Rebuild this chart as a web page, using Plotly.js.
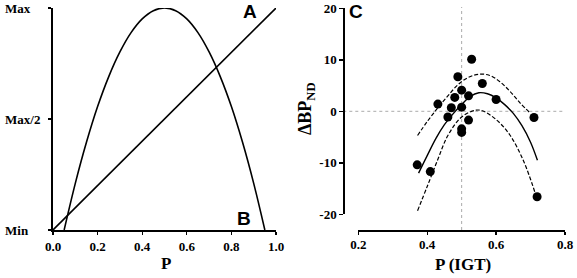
<!DOCTYPE html>
<html>
<head>
<meta charset="utf-8">
<script src="https://cdn.plot.ly/plotly-3.0.1.min.js"></script>
<style>html,body{margin:0;padding:0;background:#fff;}#chart{width:577px;height:278px;}</style>
</head>
<body>
<div id="chart"></div>
<script>
// ---- Panel A/B data ----
const pX = [0.05, 0.10, 0.15, 0.20, 0.25, 0.30, 0.35, 0.40, 0.45, 0.50, 0.55, 0.60, 0.65, 0.70, 0.75, 0.80, 0.85, 0.90, 0.95];
const curveA = [0, 0.21, 0.395, 0.556, 0.691, 0.802, 0.889, 0.951, 0.988, 1.0, 0.988, 0.951, 0.889, 0.802, 0.691, 0.556, 0.395, 0.21, 0];
const lineX = [0, 1];
const lineB = [0, 1];
const leftYTickVals = [0, 0.5, 1];
const leftYTickText = ['Min', 'Max/2', 'Max'];
const leftXTickVals = [0, 0.2, 0.4, 0.6, 0.8, 1.0];
const leftXTickText = ['0.0', '0.2', '0.4', '0.6', '0.8', '1.0'];
const leftXTitle = 'P';

// ---- Panel C data ----
const igtP = [0.529, 0.489, 0.560, 0.500, 0.480, 0.520, 0.600, 0.431, 0.470, 0.500, 0.460, 0.520, 0.500, 0.500, 0.371, 0.409, 0.710, 0.719];
const dBPnd = [10.1, 6.7, 5.4, 4.1, 2.7, 3.0, 2.3, 1.4, 0.7, 0.8, -1.1, -1.7, -3.4, -4.1, -10.4, -11.7, -1.2, -16.6];

const fitX = [0.375, 0.40, 0.425, 0.45, 0.475, 0.50, 0.525, 0.55, 0.575, 0.60, 0.625, 0.65, 0.675, 0.70, 0.72];
const fitY = [-12.0, -8.6, -5.3, -2.6, -0.5, 1.3, 2.9, 3.6, 3.4, 2.6, 1.3, -0.4, -2.8, -6.0, -9.5];

const upperX = [0.372, 0.40, 0.43, 0.46, 0.49, 0.52, 0.55, 0.58, 0.61, 0.64, 0.67, 0.70];
const upperY = [-4.7, -2.0, 0.6, 3.0, 5.2, 6.6, 7.2, 7.0, 5.8, 3.9, 1.6, -0.4];

const lowerX = [0.372, 0.40, 0.43, 0.46, 0.50, 0.54, 0.56, 0.60, 0.64, 0.68, 0.713];
const lowerY = [-19.3, -14.6, -9.5, -4.7, -1.1, 0.2, 0.1, -1.6, -4.6, -9.7, -15.8];

const rightXTicks = [0.2, 0.4, 0.6, 0.8];
const rightYTicks = [-20, -10, 0, 10, 20];
const rightXTitle = 'P (IGT)';
const rightYTitle = 'ΔBP<sub>ND</sub>';

const W = 577, H = 278;
const px = v => v / W;
const py = v => 1 - v / H;

const SERIF = 'Liberation Serif';
const tickFont = () => ({family: SERIF, size: 13, color: '#000', weight: 700});
const titleFont = s => ({family: SERIF, size: s, color: '#000', weight: 700});
const letterFont = () => ({family: 'Liberation Sans', size: 19, color: '#000', weight: 700});

const traces = [
  {x: pX, y: curveA, xaxis: 'x', yaxis: 'y', mode: 'lines', line: {color: '#000', width: 1.6, shape: 'spline'}, hoverinfo: 'skip'},
  {x: lineX, y: lineB, xaxis: 'x', yaxis: 'y', mode: 'lines', line: {color: '#000', width: 1.6}, hoverinfo: 'skip'},
  {x: upperX, y: upperY, xaxis: 'x2', yaxis: 'y2', mode: 'lines', line: {color: '#000', width: 1.2, dash: '4px,2px', shape: 'spline'}},
  {x: lowerX, y: lowerY, xaxis: 'x2', yaxis: 'y2', mode: 'lines', line: {color: '#000', width: 1.2, dash: '4px,2px', shape: 'spline'}},
  {x: fitX, y: fitY, xaxis: 'x2', yaxis: 'y2', mode: 'lines', line: {color: '#000', width: 1.4, shape: 'spline'}},
  {x: igtP, y: dBPnd, xaxis: 'x2', yaxis: 'y2', mode: 'markers', marker: {color: '#000', size: 9}}
];

const annotations = leftYTickVals.map((v, i) => ({
  text: '<b>' + leftYTickText[i] + '</b>', xref: 'paper', yref: 'y', x: px(3), y: v,
  xanchor: 'left', yanchor: 'middle', showarrow: false, font: tickFont()
}));
annotations.push(
  // axis titles
  {text: '<b>' + leftXTitle + '</b>', xref: 'paper', yref: 'paper', x: px(165.5), y: py(263.5), xanchor: 'center', yanchor: 'middle', showarrow: false, font: titleFont(17)},
  {text: '<b>' + rightXTitle + '</b>', xref: 'paper', yref: 'paper', x: px(462.5), y: py(264), xanchor: 'center', yanchor: 'middle', showarrow: false, font: titleFont(17)},
  {text: '<b>' + rightYTitle + '</b>', xref: 'paper', yref: 'paper', x: px(306), y: py(109), xanchor: 'center', yanchor: 'middle', textangle: -90, showarrow: false, font: titleFont(18)},
  // panel letters
  {text: '<b>A</b>', xref: 'paper', yref: 'paper', x: px(250), y: py(12), xanchor: 'center', yanchor: 'middle', showarrow: false, font: letterFont()},
  {text: '<b>B</b>', xref: 'paper', yref: 'paper', x: px(243.5), y: py(218), xanchor: 'center', yanchor: 'middle', showarrow: false, font: letterFont()},
  {text: '<b>C</b>', xref: 'paper', yref: 'paper', x: px(355.5), y: py(11.5), xanchor: 'center', yanchor: 'middle', showarrow: false, font: letterFont()}
);

const layout = {
  width: W, height: H,
  margin: {l: 0, r: 0, t: 0, b: 0},
  paper_bgcolor: '#fff', plot_bgcolor: 'rgba(0,0,0,0)',
  showlegend: false,
  font: {family: SERIF, color: '#000', size: 12},
  xaxis: {
    domain: [px(53), px(276)], range: [0, 1], anchor: 'y',
    showline: true, linecolor: '#000', linewidth: 1.6, showgrid: false, zeroline: false,
    ticks: 'outside', ticklen: 3, tickwidth: 1.2, tickcolor: '#000', ticklabelstandoff: 1,
    tickvals: leftXTickVals, ticktext: leftXTickText.map(t => '<b>' + t + '</b>'), tickfont: tickFont()
  },
  yaxis: {
    domain: [py(230), py(8)], range: [0, 1], anchor: 'x',
    showline: true, linecolor: '#000', linewidth: 1.6, showgrid: false, zeroline: false,
    ticks: 'outside', ticklen: 3, tickwidth: 1.2, tickcolor: '#000',
    tickvals: leftYTickVals, showticklabels: false
  },
  xaxis2: {
    domain: [px(358.3), px(565)], range: [0.2, 0.8], anchor: 'free', position: py(230),
    showline: true, linecolor: '#000', linewidth: 1.6, showgrid: false, zeroline: false,
    ticks: 'outside', ticklen: 3, tickwidth: 1.4, tickcolor: '#000', ticklabelstandoff: -1,
    tickvals: rightXTicks, ticktext: rightXTicks.map(v => '<b>' + v.toFixed(1) + '</b>'), tickfont: tickFont()
  },
  yaxis2: {
    domain: [py(214.3), py(8.3)], range: [-20, 20], anchor: 'free', position: px(343.3),
    showline: true, linecolor: '#000', linewidth: 1.6, showgrid: false, zeroline: false,
    ticks: 'outside', ticklen: 4, tickwidth: 1.4, tickcolor: '#000',
    tickvals: rightYTicks, ticktext: rightYTicks.map(v => '<b>' + v + '</b>'), tickfont: tickFont()
  },
  shapes: [
    {type: 'line', layer: 'below', xref: 'x2', yref: 'paper', x0: 0.5, x1: 0.5, y0: py(230), y1: py(7), line: {color: '#aaa', width: 1, dash: 'dot'}},
    {type: 'line', layer: 'below', xref: 'paper', yref: 'y2', x0: px(343.3), x1: px(565), y0: 0, y1: 0, line: {color: '#aaa', width: 1, dash: 'dot'}}
  ],
  annotations: annotations
};

Plotly.newPlot('chart', traces, layout, {staticPlot: true, displayModeBar: false});
</script>
</body>
</html>
